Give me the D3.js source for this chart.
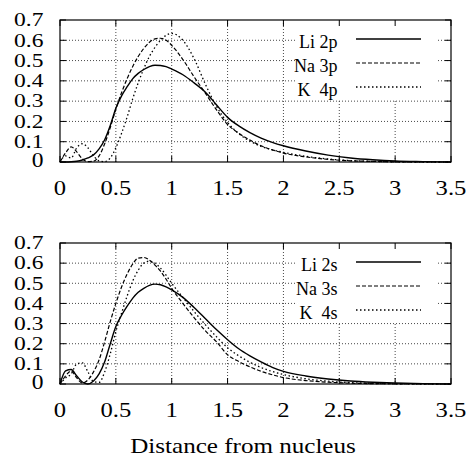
<!DOCTYPE html>
<html>
<head>
<meta charset="utf-8">
<script src="https://cdn.jsdelivr.net/npm/d3@7"></script>
<style>
  body { margin: 0; background: #fff; }
  .legend-label { white-space: pre; }
</style>
</head>
<body>
<svg id="vis-svg"></svg>
<script>
// Radial distance samples (shared by all curves)
const distances = [0, 0.05, 0.1, 0.15, 0.2, 0.25, 0.3, 0.35, 0.4, 0.45, 0.5, 0.55, 0.6, 0.65, 0.7, 0.75,
  0.8, 0.85, 0.9, 0.95, 1.0, 1.1, 1.2, 1.3, 1.4, 1.5, 1.6, 1.7, 1.8, 1.9, 2.0, 2.2, 2.4, 2.6, 2.8, 3.0, 3.25, 3.5];

// p orbitals (top panel)
const li2p = [0, 0, 0.001, 0.004, 0.01, 0.02, 0.035, 0.065, 0.11, 0.18, 0.265, 0.325, 0.37, 0.41, 0.437, 0.456,
  0.47, 0.477, 0.476, 0.47, 0.458, 0.43, 0.39, 0.345, 0.282, 0.22, 0.178, 0.145, 0.118, 0.097, 0.08, 0.054, 0.034, 0.02, 0.011, 0.005, 0.002, 0];
const na3p = [0, 0.045, 0.075, 0.05, 0.015, 0.002, 0.004, 0.03, 0.09, 0.17, 0.26, 0.34, 0.41, 0.47, 0.52, 0.56,
  0.59, 0.607, 0.61, 0.6, 0.575, 0.505, 0.42, 0.34, 0.258, 0.185, 0.142, 0.108, 0.08, 0.06, 0.044, 0.025, 0.013, 0.006, 0.003, 0.001, 0, 0];
const k4p = [0, 0.03, 0.02, 0.07, 0.09, 0.07, 0.03, 0.006, 0.002, 0.02, 0.07, 0.14, 0.22, 0.31, 0.39, 0.46,
  0.52, 0.565, 0.6, 0.625, 0.634, 0.6, 0.51, 0.385, 0.275, 0.195, 0.14, 0.103, 0.077, 0.06, 0.048, 0.028, 0.015, 0.007, 0.003, 0.001, 0, 0];

// s orbitals (bottom panel)
const li2s = [0, 0.065, 0.072, 0.04, 0.01, 0, 0.015, 0.05, 0.11, 0.2, 0.285, 0.34, 0.385, 0.425, 0.455, 0.475,
  0.49, 0.496, 0.493, 0.482, 0.467, 0.43, 0.38, 0.325, 0.27, 0.22, 0.175, 0.14, 0.11, 0.083, 0.063, 0.04, 0.025, 0.015, 0.009, 0.005, 0.002, 0];
const na3s = [0, 0.04, 0.065, 0.03, 0.005, 0.02, 0.06, 0.12, 0.21, 0.31, 0.4, 0.48, 0.545, 0.595, 0.625, 0.628,
  0.615, 0.59, 0.56, 0.52, 0.475, 0.4, 0.33, 0.265, 0.21, 0.145, 0.112, 0.085, 0.063, 0.046, 0.032, 0.017, 0.009, 0.004, 0.002, 0.001, 0, 0];
const k4s = [0, 0.03, 0.05, 0.1, 0.105, 0.06, 0.012, 0.008, 0.06, 0.15, 0.26, 0.35, 0.435, 0.51, 0.565, 0.6,
  0.61, 0.6, 0.575, 0.54, 0.5, 0.43, 0.36, 0.295, 0.235, 0.18, 0.14, 0.108, 0.082, 0.062, 0.047, 0.026, 0.014, 0.007, 0.003, 0.001, 0, 0];

const pLabels = ["Li 2p", "Na 3p", "K  4p"];
const sLabels = ["Li 2s", "Na 3s", "K  4s"];
const xTicks = [0, 0.5, 1, 1.5, 2, 2.5, 3, 3.5];
const yTicks = [0, 0.1, 0.2, 0.3, 0.4, 0.5, 0.6, 0.7];
const xTitle = "Distance from nucleus";

(() => {
  const width = 468;
  const height = 457;
  const plotLeft = 60;
  const plotRight = 451;
  const serif = "'Liberation Serif', serif";

  const svg = d3.select("#vis-svg")
    .attr("width", width)
    .attr("height", height)
    .style("display", "block");

  const x = d3.scaleLinear().domain([0, 3.5]).range([plotLeft, plotRight]);

  // line styles: solid, dashed, dotted
  const styles = [
    { dash: null, w: 1.4 },
    { dash: "4,2", w: 1.2 },
    { dash: "1.5,2.5", w: 1.3 }
  ];

  function drawPanel(top, bottom, seriesList, labels) {
    const y = d3.scaleLinear().domain([0, 0.7]).range([bottom, top]);
    const g = svg.append("g");

    // grid
    g.selectAll(".vgrid")
      .data(xTicks.slice(1, -1))
      .enter().append("line")
      .attr("x1", d => x(d)).attr("x2", d => x(d))
      .attr("y1", top).attr("y2", bottom)
      .attr("stroke", "#333").attr("stroke-width", 0.9)
      .attr("stroke-dasharray", "1,2");
    g.selectAll(".hgrid")
      .data(yTicks.slice(1, -1))
      .enter().append("line")
      .attr("x1", plotLeft).attr("x2", plotRight)
      .attr("y1", d => y(d)).attr("y2", d => y(d))
      .attr("stroke", "#333").attr("stroke-width", 0.9)
      .attr("stroke-dasharray", "1,2");

    // key box hides the grid behind it
    g.append("rect")
      .attr("x", 296).attr("y", top)
      .attr("width", 140).attr("height", 80)
      .attr("fill", "#fff");

    const line = d3.line()
      .x((d, i) => x(distances[i]))
      .y(d => y(d))
      .curve(d3.curveMonotoneX);

    seriesList.forEach((vals, i) => {
      g.append("path")
        .attr("d", line(vals))
        .attr("fill", "none")
        .attr("stroke", "#000")
        .attr("stroke-width", styles[i].w)
        .attr("stroke-dasharray", styles[i].dash);
    });

    // legend
    labels.forEach((lab, i) => {
      const base = top + 28 + i * 24;
      g.append("text")
        .attr("class", "legend-label")
        .attr("x", 337.5).attr("y", base)
        .attr("text-anchor", "end")
        .style("font-family", serif)
        .style("font-size", "18px")
        .text(lab);
      g.append("line")
        .attr("x1", 356).attr("x2", 421)
        .attr("y1", base - 9).attr("y2", base - 9)
        .attr("stroke", "#000")
        .attr("stroke-width", styles[i].w)
        .attr("stroke-dasharray", styles[i].dash);
    });

    // frame
    g.append("rect")
      .attr("x", plotLeft).attr("y", top)
      .attr("width", plotRight - plotLeft).attr("height", bottom - top)
      .attr("fill", "none").attr("stroke", "#000").attr("stroke-width", 1.2);

    // ticks (inside, mirrored)
    xTicks.forEach(t => {
      g.append("line").attr("x1", x(t)).attr("x2", x(t)).attr("y1", bottom).attr("y2", bottom - 6)
        .attr("stroke", "#000").attr("stroke-width", 1);
      g.append("line").attr("x1", x(t)).attr("x2", x(t)).attr("y1", top).attr("y2", top + 6)
        .attr("stroke", "#000").attr("stroke-width", 1);
    });
    yTicks.forEach(t => {
      g.append("line").attr("x1", plotLeft).attr("x2", plotLeft + 6).attr("y1", y(t)).attr("y2", y(t))
        .attr("stroke", "#000").attr("stroke-width", 1);
      g.append("line").attr("x1", plotRight).attr("x2", plotRight - 6).attr("y1", y(t)).attr("y2", y(t))
        .attr("stroke", "#000").attr("stroke-width", 1);
    });

    // tick labels
    g.selectAll(".xlab")
      .data(xTicks)
      .enter().append("text")
      .attr("transform", d => `translate(${x(d)},${bottom + 33}) scale(1.12,1)`)
      .attr("text-anchor", "middle")
      .style("font-family", serif)
      .style("font-size", "22px")
      .text(d => d);

    g.selectAll(".ylab")
      .data(yTicks)
      .enter().append("text")
      .attr("transform", d => d === 0
        ? `translate(43.5,${y(d) - 3}) scale(1.07,1)`
        : `translate(43.5,${y(d)}) scale(1.07,0.83)`)
      .attr("y", 7.5)
      .attr("text-anchor", "end")
      .style("font-family", serif)
      .style("font-size", "22px")
      .text(d => d);
  }

  drawPanel(20, 162, [li2p, na3p, k4p], pLabels);
  drawPanel(243, 384, [li2s, na3s, k4s], sLabels);

  svg.append("text")
    .attr("transform", "translate(243,453) scale(1.14,1)")
    .attr("text-anchor", "middle")
    .style("font-family", serif)
    .style("font-size", "22px")
    .text(xTitle);
})();
</script>
</body>
</html>
